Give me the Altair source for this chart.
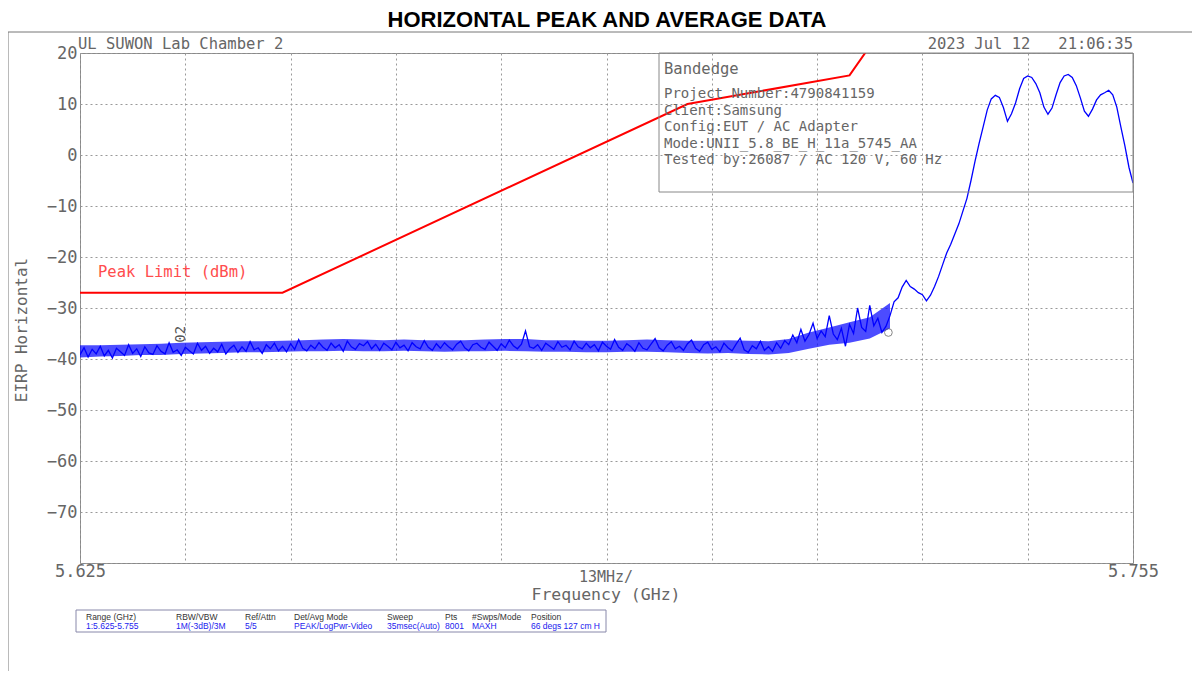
import altair as alt
import pandas as pd

# ---------------- data ----------------
f_start = 5.625          # GHz, first sweep point shown
f_step = 0.0005          # GHz between listed points
trace_dbm = [
    -39.2, -37.8, -39.6, -38.1, -39.0, -37.5, -39.4, -38.3, -39.8, -37.9,
    -38.6, -39.3, -37.2, -38.9, -38.0, -39.5, -37.6, -38.8, -39.1, -37.4,
    -38.5, -39.0, -36.8, -38.7, -38.2, -39.3, -37.7, -38.4, -39.0, -36.9,
    -38.3, -37.5, -38.9, -37.9, -38.6, -37.1, -39.0, -38.0, -37.3, -38.7,
    -37.6, -38.5, -36.6, -38.2, -37.8, -38.9, -37.2, -38.0, -36.9, -38.4,
    -37.5, -38.6, -37.0, -38.1, -36.2, -37.9, -38.4, -37.3, -38.0, -36.8,
    -37.7, -38.3, -36.9, -37.8, -37.2, -38.5, -36.5, -37.6, -38.1, -37.0,
    -37.4, -36.6, -38.0, -37.1, -38.3, -36.9, -37.5, -38.2, -36.7, -37.8,
    -37.3, -38.4, -36.8, -37.6, -38.0, -36.4, -37.7, -38.3, -37.0, -37.9,
    -36.8, -37.6, -38.2, -37.1, -36.5, -37.8, -38.4, -37.2, -36.9, -37.7,
    -38.1, -36.7, -37.5, -38.3, -37.0, -37.8, -36.3, -37.4, -38.0, -37.1,
    -34.5, -37.6, -37.9, -37.2, -38.3, -36.9, -37.5, -38.1, -36.6, -37.7,
    -37.3, -38.2, -36.5, -37.6, -38.0, -36.9, -37.8, -37.2, -38.4, -36.7,
    -37.5, -38.1, -36.2, -37.7, -38.3, -37.0, -37.6, -38.5, -36.8, -37.9,
    -38.2, -37.1, -36.0, -37.8, -38.4, -37.3, -36.6, -38.0, -37.5, -38.3,
    -37.0, -36.3, -37.9, -38.5, -37.2, -36.7, -38.1, -37.6, -38.6, -36.9,
    -37.8, -38.4, -37.1, -35.9, -38.2, -38.7, -37.4, -38.0, -36.5, -38.3,
    -37.6, -38.5, -36.8, -37.9, -36.4, -37.2, -35.3, -36.8, -34.2, -36.5,
    -35.2, -33.0, -36.0, -34.5, -35.6, -31.5, -35.1, -36.2, -34.0, -37.5,
    -33.2, -35.0, -30.0, -33.8, -34.6, -29.5, -33.5, -32.0, -34.8, -33.6,
    -31.5, -28.8, -28.0, -25.9, -24.6, -25.8, -26.3, -27.0, -27.4, -28.6,
    -27.5, -25.8, -23.8, -21.5, -19.2, -17.5, -15.5, -13.5, -11.0, -8.5,
    -5.0, -1.2, 2.3, 5.5, 8.8, 11.0, 11.7, 11.3, 9.3, 6.6,
    8.1, 10.2, 13.0, 15.0, 15.5, 15.2, 14.0, 12.2, 9.4, 8.0,
    9.2, 11.8, 14.2, 15.5, 15.8, 15.2, 13.6, 11.2, 8.6, 7.6,
    9.0, 10.8, 11.8, 12.2, 12.7, 11.8, 9.4, 5.5, 1.8, -2.4,
    -5.5,
]
trace_f = [round(f_start + f_step * i, 4) for i in range(len(trace_dbm))]

# noise-core envelope of the trace, read every 2.5 MHz
env_step = 0.0025
env_low = [
    -39.7, -39.5, -39.4, -39.2, -39.2, -39.0, -38.9, -38.8, -38.7, -38.7,
    -38.6, -38.5, -38.5, -38.4, -38.5, -38.5, -38.4, -38.5, -38.6, -38.5,
    -38.5, -38.4, -38.5, -38.6, -38.6, -38.7, -38.7, -38.6, -38.6, -38.7,
    -38.8, -38.9, -38.8, -39.0, -39.1, -38.8, -38.0, -37.2, -36.8, -36.0,
    -34.0,
]
env_high = [
    -37.3, -37.3, -37.2, -37.1, -37.0, -36.8, -36.7, -36.6, -36.5, -36.5,
    -36.4, -36.3, -36.2, -36.1, -36.2, -36.3, -36.2, -36.3, -36.3, -36.3,
    -36.2, -36.1, -36.1, -36.3, -36.3, -36.4, -36.4, -36.3, -36.2, -36.3,
    -36.4, -36.4, -36.3, -36.4, -36.5, -36.1, -34.8, -33.8, -32.8, -31.8,
    -29.0,
]
env_f = [round(f_start + env_step * k, 4) for k in range(len(env_low))]

limit_f = [5.625, 5.650, 5.700, 5.720, 5.725]
limit_dbm = [-27.0, -27.0, 10.0, 15.6, 27.0]

x_grid = [5.625, 5.638, 5.651, 5.664, 5.677, 5.690, 5.703, 5.716, 5.729, 5.742, 5.755]
y_ticks = [20, 10, 0, -10, -20, -30, -40, -50, -60, -70, -80]

info_lines = [
    "Project Number:4790841159",
    "Client:Samsung",
    "Config:EUT / AC Adapter",
    "Mode:UNII_5.8_BE_H_11a_5745_AA",
    "Tested by:26087 / AC 120 V, 60 Hz",
]
table_headers = ["Range (GHz)", "RBW/VBW", "Ref/Attn", "Det/Avg Mode", "Sweep",
                 "Pts", "#Swps/Mode", "Position"]
table_values = ["1:5.625-5.755", "1M(-3dB)/3M", "5/5", "PEAK/LogPwr-Video",
                "35msec(Auto)", "8001", "MAXH", "66 degs 127 cm H"]
table_cols_px = [6, 96, 165, 214, 307, 365, 392, 451]

marker_f = [5.7248]
marker_dbm = [-34.8]

# ---------------- chart ----------------
W, H = 1053, 510
MONO = "DejaVu Sans Mono"
GREY = "#666666"
NB = "\u00a0"

xs = alt.Scale(domain=[5.625, 5.755], nice=False, zero=False)
ys = alt.Scale(domain=[-80, 20], nice=False, zero=False)

trace_df = pd.DataFrame({"f": trace_f, "dbm": trace_dbm})
env_df = pd.DataFrame({"f": env_f, "lo": env_low, "hi": env_high})
limit_df = pd.DataFrame({"f": limit_f, "dbm": limit_dbm})
dummy = pd.DataFrame({"a": [0]})

base_axes = alt.Chart(trace_df).mark_point(opacity=0).encode(
    x=alt.X("f:Q", scale=xs,
            axis=alt.Axis(values=x_grid, title=None, grid=True, gridDash=[2, 3],
                          gridColor="#999999", ticks=False, domain=False,
                          labelExpr="(datum.value < 5.626 || datum.value > 5.754) ? format(datum.value, '.3f') : ''",
                          labelFont=MONO, labelFontSize=17, labelColor=GREY,
                          labelPadding=0, labelOverlap=False, labelFlush=False)),
    y=alt.Y("dbm:Q", scale=ys,
            axis=alt.Axis(values=y_ticks, title=None, grid=True, gridDash=[2, 3],
                          gridColor="#999999", ticks=False, domain=False,
                          labelExpr="datum.value < -75 ? '' : datum.label",
                          labelFont=MONO, labelFontSize=17, labelColor=GREY,
                          labelPadding=3, labelOverlap=False)),
)

envelope = alt.Chart(env_df).mark_area(color="#0000ff", opacity=0.7, clip=True).encode(
    x=alt.X("f:Q", scale=xs), y=alt.Y("lo:Q", scale=ys), y2="hi:Q")

trace = alt.Chart(trace_df).mark_line(color="#0000ff", strokeWidth=1.3, clip=True).encode(
    x=alt.X("f:Q", scale=xs), y=alt.Y("dbm:Q", scale=ys))

limit = alt.Chart(limit_df).mark_line(color="#ff0000", strokeWidth=2, clip=True).encode(
    x=alt.X("f:Q", scale=xs), y=alt.Y("dbm:Q", scale=ys))

marker = alt.Chart(pd.DataFrame({"f": marker_f, "dbm": marker_dbm})).mark_point(
    shape="circle", filled=False, color="#555555", size=60, strokeWidth=1).encode(
    x=alt.X("f:Q", scale=xs), y=alt.Y("dbm:Q", scale=ys))

marker2 = alt.Chart(pd.DataFrame({"f": [5.6375], "dbm": [-36.8], "t": ["02"]})).mark_text(
    font=MONO, fontSize=14, color="#555555", angle=270, align="left", baseline="middle").encode(
    x=alt.X("f:Q", scale=xs), y=alt.Y("dbm:Q", scale=ys), text="t:N")

def txt(text, x, y, size=15, color=GREY, align="left", font=MONO, weight="normal", angle=0, baseline="middle"):
    kw = dict(text=text, font=font, fontSize=size, color=color, align=align,
              fontWeight=weight, baseline=baseline)
    if angle:
        kw["angle"] = angle
    return alt.Chart(dummy).mark_text(**kw).encode(x=alt.value(x), y=alt.value(y))

def rule(x, y, x2, y2, color="#888888", width=1):
    return alt.Chart(dummy).mark_rule(color=color, strokeWidth=width).encode(
        x=alt.value(x), y=alt.value(y), x2=alt.value(x2), y2=alt.value(y2))

# page coordinates -> plot coordinates: subtract (80, 53)
layers = [base_axes, limit, envelope, trace, marker, marker2]

# outer frame lines
layers.append(rule(-72, -21, 1120, -21, color="#777777"))
layers.append(rule(-72, -21, -72, 630, color="#777777"))

layers.append(txt("HORIZONTAL PEAK AND AVERAGE DATA", 527, -33, size=22, color="#000000",
                  align="center", font="Liberation Sans", weight="bold"))
layers.append(txt("UL SUWON Lab Chamber 2", -2, -9, size=15.5))
layers.append(txt(f"2023 Jul 12{NB}{NB}{NB}21:06:35", W, -9, size=15.5, align="right"))

# info box
box = alt.Chart(dummy).mark_rect(fill=None, stroke="#888888", strokeWidth=1).encode(
    x=alt.value(579), y=alt.value(0), x2=alt.value(W), y2=alt.value(139))
layers.append(box)
layers.append(txt("Bandedge", 584, 16, size=15.5))
for i, line in enumerate(info_lines):
    layers.append(txt(line, 584, 41 + 16.5 * i, size=14))

layers.append(txt("Peak Limit (dBm)", 18, 219, size=15.5, color="#ff4d4d"))
layers.append(txt("13MHz/", 526, H + 14, size=15, align="center"))
layers.append(txt("Frequency (GHz)", 526, H + 32, size=16.5, align="center"))
layers.append(txt("EIRP Horizontal", -58, 277, size=16, align="center", angle=270))

# bottom table
tb = alt.Chart(dummy).mark_rect(fill=None, stroke="#8888aa", strokeWidth=1).encode(
    x=alt.value(-4), y=alt.value(H + 47), x2=alt.value(526), y2=alt.value(H + 69))
layers.append(tb)
for hx, h, v in zip(table_cols_px, table_headers, table_values):
    layers.append(txt(h, hx, H + 54, size=8.5, color="#333333", font="Liberation Sans"))
    layers.append(txt(v, hx, H + 63, size=8.5, color="#2222ee", font="Liberation Sans"))

chart = alt.layer(*layers).properties(
    width=W, height=H,
    autosize=alt.AutoSizeParams(type="none"),
    padding={"left": 72, "top": 45, "right": 59, "bottom": 108},
).configure_view(stroke="#888888", strokeWidth=1)

chart.save("out.html", embed_options={"renderer": "svg", "actions": False})
